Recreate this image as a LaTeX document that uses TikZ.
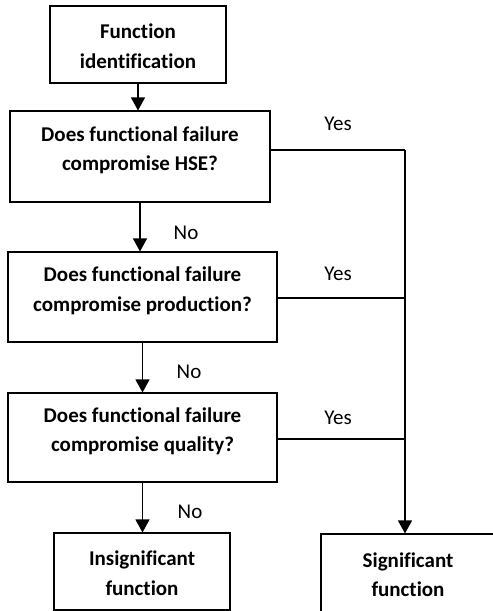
\documentclass[tikz,border=0pt]{standalone}
\usepackage{fontspec}
\setmainfont[Ligatures=NoCommon]{Carlito}
\usetikzlibrary{arrows.meta}
\begin{document}
\begin{tikzpicture}[x=1pt,y=-1pt,
  line width=1.2pt,
  boxstyle/.style={draw, line width=1.1pt, inner sep=0pt},
  boxtext/.style={font=\bfseries\fontsize{21}{29.5}\selectfont, align=center, inner sep=0pt},
  answer/.style={font=\fontsize{21}{24}\selectfont, inner sep=0pt},
  flow/.style={-{Triangle[width=14pt,length=13pt]}},
  link/.style={line width=1.2pt}]
\useasboundingbox (0,0) rectangle (493,611);

% boxes
\node[boxstyle, minimum width=176pt, minimum height=77pt] (fi) at (138,44.5) {};
\node[boxtext] at (fi.center) [yshift=-1.5pt] {Function\\identification};

\node[boxstyle, minimum width=260pt, minimum height=91pt] (hse) at (140,156.5) {};
\node[boxtext] at (hse.center) [yshift=6pt] {Does functional failure\\compromise HSE?};

\node[boxstyle, minimum width=269pt, minimum height=90pt] (prod) at (142.5,297) {};
\node[boxtext] at (prod.center) [yshift=6pt] {Does functional failure\\compromise production?};

\node[boxstyle, minimum width=269pt, minimum height=89pt] (qual) at (142.5,437.5) {};
\node[boxtext] at (qual.center) [yshift=6pt] {Does functional failure\\compromise quality?};

\node[boxstyle, minimum width=176pt, minimum height=77pt] (insig) at (142,571.5) {};
\node[boxtext] at (insig.center) [yshift=-1.5pt] {Insignificant\\function};

\node[boxstyle, minimum width=174pt, minimum height=90pt] (sig) at (408,579) {};
\node[boxtext] at (408,574.5) {Significant\\function};

% junction points of the "Yes" branches
\coordinate (j1) at (405,150);
\coordinate (j2) at (405,298);
\coordinate (j3) at (405,439);

% "No" path
\draw[flow] (fi.south) -- (fi.south |- hse.north);
\draw[flow] (hse.south) -- (hse.south |- prod.north);
\draw[flow] (prod.south) -- (prod.south |- qual.north);
\draw[flow] (qual.south) -- (qual.south |- insig.north);

% "Yes" path
\draw[link] (hse.north east |- j1) -- (j1);
\draw[link] (prod.north east |- j2) -- (j2);
\draw[link] (qual.north east |- j3) -- (j3);
\draw[flow] (j1) -- (j1 |- sig.north);

% answer labels
\node[answer] at (186,233) {No};
\node[answer] at (189,372) {No};
\node[answer] at (190,512) {No};
\node[answer] at (338,124) {Yes};
\node[answer] at (338,274) {Yes};
\node[answer] at (338,418) {Yes};
\end{tikzpicture}
\end{document}
